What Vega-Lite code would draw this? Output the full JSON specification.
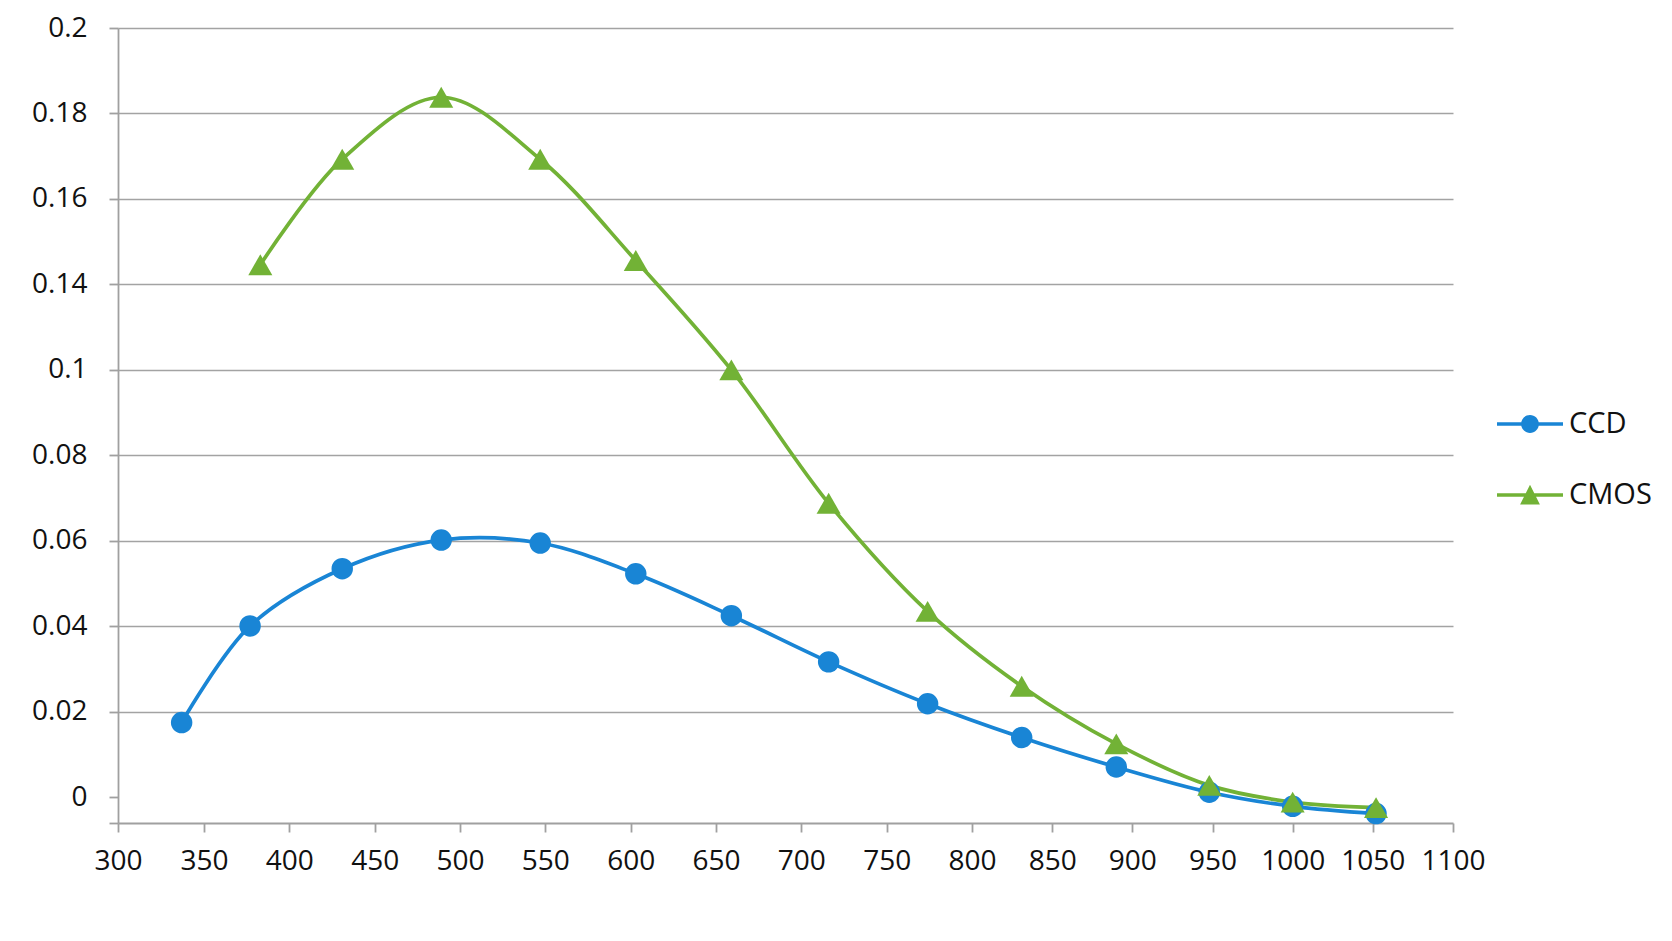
{
  "$schema": "https://vega.github.io/schema/vega-lite/v6.json",
  "autosize": "none",
  "width": 1335,
  "height": 795,
  "padding": {"left": 118, "top": 28, "right": 219, "bottom": 118},
  "background": "white",
  "config": {
    "view": {"stroke": null},
    "font": "Open Sans",
    "axis": {"labelFont": "Open Sans", "labelColor": "#111111"}
  },
  "data": {
    "values": [
      {"series": "CCD", "wavelength": 337, "value": 0.0175},
      {"series": "CCD", "wavelength": 377, "value": 0.0401},
      {"series": "CCD", "wavelength": 431, "value": 0.0535},
      {"series": "CCD", "wavelength": 489, "value": 0.0602},
      {"series": "CCD", "wavelength": 547, "value": 0.0595},
      {"series": "CCD", "wavelength": 603, "value": 0.0523},
      {"series": "CCD", "wavelength": 659, "value": 0.0425},
      {"series": "CCD", "wavelength": 716, "value": 0.0317},
      {"series": "CCD", "wavelength": 774, "value": 0.0219},
      {"series": "CCD", "wavelength": 831, "value": 0.0140},
      {"series": "CCD", "wavelength": 890, "value": 0.0071},
      {"series": "CCD", "wavelength": 948, "value": 0.0012},
      {"series": "CCD", "wavelength": 1000, "value": -0.0021},
      {"series": "CCD", "wavelength": 1052, "value": -0.0038},
      {"series": "CMOS", "wavelength": 383, "value": 0.1246},
      {"series": "CMOS", "wavelength": 431, "value": 0.1493},
      {"series": "CMOS", "wavelength": 489, "value": 0.1638},
      {"series": "CMOS", "wavelength": 547, "value": 0.1493},
      {"series": "CMOS", "wavelength": 603, "value": 0.1256},
      {"series": "CMOS", "wavelength": 659, "value": 0.1000},
      {"series": "CMOS", "wavelength": 716, "value": 0.0688},
      {"series": "CMOS", "wavelength": 774, "value": 0.0435},
      {"series": "CMOS", "wavelength": 831, "value": 0.0260},
      {"series": "CMOS", "wavelength": 890, "value": 0.0125},
      {"series": "CMOS", "wavelength": 948, "value": 0.0028},
      {"series": "CMOS", "wavelength": 1000, "value": -0.0011},
      {"series": "CMOS", "wavelength": 1052, "value": -0.0024}
    ]
  },
  "encoding": {
    "x": {
      "field": "wavelength",
      "type": "quantitative",
      "scale": {"domain": [300, 350, 800, 1100], "range": [0, 86, 854, 1335], "nice": false, "zero": false},
      "axis": {
        "title": null,
        "values": [300, 350, 400, 450, 500, 550, 600, 650, 700, 750, 800, 850, 900, 950, 1000, 1050, 1100],
        "format": "d",
        "grid": false,
        "domainColor": "#a0a0a0",
        "domainWidth": 1.8,
        "tickColor": "#a0a0a0",
        "tickWidth": 1.8,
        "tickSize": 9,
        "labelFontSize": 28,
        "labelPadding": 15,
        "labelFlush": false
      }
    },
    "y": {
      "field": "value",
      "type": "quantitative",
      "scale": {"domain": [-0.006, 0.18], "nice": false, "zero": false},
      "axis": {
        "title": null,
        "values": [-0.006, 0, 0.02, 0.04, 0.06, 0.08, 0.1, 0.12, 0.14, 0.16, 0.18],
        "labelExpr": "datum.value < -0.001 ? '' : datum.value > 0.179 ? '0.2' : datum.value > 0.159 ? '0.18' : datum.value > 0.139 ? '0.16' : datum.value > 0.119 ? '0.14' : format(datum.value, '.2~f')",
        "grid": true,
        "gridColor": "#a3a3a3",
        "gridWidth": 1.7,
        "gridOpacity": {"condition": {"test": "datum.value < 0.01", "value": 0}, "value": 1},
        "domainColor": "#a0a0a0",
        "domainWidth": 1.8,
        "tickColor": "#a0a0a0",
        "tickWidth": 1.8,
        "tickSize": 9,
        "labelFontSize": 28,
        "labelPadding": 22,
        "labelFlush": false
      }
    }
  },
  "layer": [
    {
      "mark": {"type": "line", "interpolate": "catmull-rom", "strokeWidth": 3.7},
      "encoding": {
        "color": {
          "field": "series",
          "type": "nominal",
          "scale": {"domain": ["CCD", "CMOS"], "range": ["#1985d5", "#72b236"]},
          "legend": null
        }
      }
    },
    {
      "mark": {"type": "point", "filled": true, "opacity": 1, "strokeWidth": 0},
      "encoding": {
        "color": {
          "field": "series",
          "type": "nominal",
          "scale": {"domain": ["CCD", "CMOS"], "range": ["#1985d5", "#72b236"]},
          "legend": null
        },
        "shape": {
          "field": "series",
          "type": "nominal",
          "scale": {"domain": ["CCD", "CMOS"], "range": ["circle", "triangle-up"]},
          "legend": null
        },
        "size": {
          "field": "series",
          "type": "nominal",
          "scale": {"domain": ["CCD", "CMOS"], "range": [460, 580]},
          "legend": null
        }
      }
    },
    {
      "mark": {"type": "point", "filled": true, "opacity": 0, "strokeWidth": 0},
      "encoding": {
        "color": {
          "field": "series",
          "type": "nominal",
          "scale": {"domain": ["CCD", "CMOS"], "range": ["#1985d5", "#72b236"]},
          "legend": {
            "title": null,
            "orient": "none",
            "legendX": 1379,
            "legendY": 363,
            "padding": 0,
            "symbolSize": 4356,
            "symbolOpacity": 1,
            "symbolStrokeWidth": 0,
            "labelFont": "Open Sans",
            "labelFontSize": 29,
            "labelColor": "#111111",
            "labelOffset": 6,
            "rowPadding": 23
          }
        },
        "shape": {
          "field": "series",
          "type": "nominal",
          "scale": {
            "domain": ["CCD", "CMOS"],
            "range": [
              "M-1,-0.05H-0.25V0.05H-1Z M0.25,-0.05H1V0.05H0.25Z M-0.27,0A0.27,0.27 0 1,1 0.27,0A0.27,0.27 0 1,1 -0.27,0Z",
              "M-1,-0.05H1V0.05H-1Z M0,-0.31L0.3,0.29L-0.3,0.29Z"
            ]
          },
          "legend": {
            "title": null,
            "orient": "none",
            "legendX": 1379,
            "legendY": 363,
            "padding": 0,
            "symbolSize": 4356,
            "symbolOpacity": 1,
            "symbolStrokeWidth": 0,
            "labelFont": "Open Sans",
            "labelFontSize": 29,
            "labelColor": "#111111",
            "labelOffset": 6,
            "rowPadding": 23
          }
        }
      }
    }
  ],
  "resolve": {"scale": {"color": "independent", "shape": "independent", "size": "independent"}}
}
